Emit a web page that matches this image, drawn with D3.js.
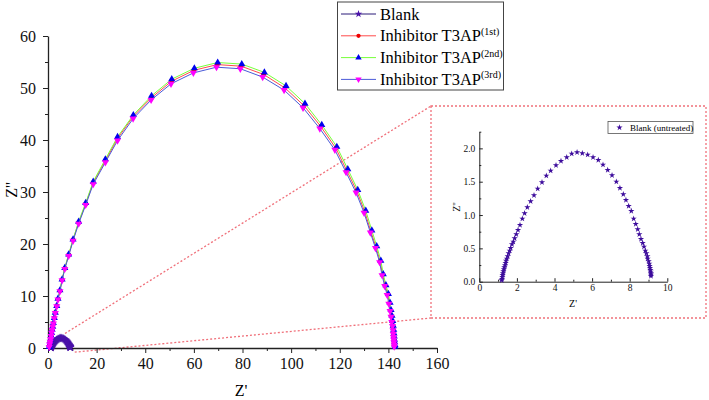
<!DOCTYPE html>
<html lang="en">
<head>
<meta charset="UTF-8">
<title>Nyquist plot</title>
<script src="https://cdn.jsdelivr.net/npm/d3@7"></script>
<style>
  body { margin: 0; background: #fff; }
  svg { display: block; }
  svg text { font-family: "Liberation Serif", "Times New Roman", Times, "DejaVu Serif", serif !important; }
  .axis path, .axis line { stroke: #222; }
  .axis text { fill: #111; }
</style>
</head>
<body>
<svg id="chart" width="709" height="400"></svg>
<script>
// Blank (untreated) - small semicircle, also shown in the inset
const blankRe = [1.19,1.21,1.225,1.24,1.26,1.28,1.31,1.33,1.37,1.40,1.42,1.46,1.51,1.56,1.615,1.67,1.74,1.81,1.88,1.97,2.06,2.165,2.29,2.41,2.555,2.73,2.91,3.105,3.335,3.565,3.795,4.08,4.345,4.65,4.915,5.20,5.48,5.765,6.05,6.33,6.58,6.83,7.06,7.29,7.48,7.66,7.80,7.945,8.085,8.21,8.32,8.425,8.51,8.60,8.69,8.76,8.83,8.885,8.94,8.955,9.01,9.045,9.06,9.08,9.10,9.115,9.13,9.13,9.13];
const blankIm = [0.02,0.04,0.07,0.10,0.125,0.155,0.185,0.215,0.245,0.28,0.315,0.345,0.38,0.425,0.465,0.505,0.56,0.60,0.65,0.71,0.775,0.85,0.945,1.025,1.115,1.205,1.295,1.395,1.49,1.59,1.665,1.745,1.81,1.865,1.92,1.94,1.925,1.905,1.865,1.825,1.755,1.675,1.595,1.50,1.405,1.31,1.225,1.135,1.06,0.945,0.865,0.785,0.71,0.64,0.58,0.525,0.465,0.425,0.38,0.345,0.305,0.27,0.235,0.205,0.175,0.15,0.125,0.105,0.085];

// Inhibitor T3AP, 1st
const t1Re = [0.5,0.7,0.9,1.1,1.3,1.5,1.7,1.95,2.2,2.6,3.0,3.6,4.1,4.9,5.8,6.9,8.5,10.3,12.6,15.5,18.6,23.6,28.6,35.0,42.5,50.8,60.0,69.6,79.4,88.7,97.5,105.3,112.2,118.4,122.9,127.0,130.3,132.8,134.9,136.6,137.6,138.7,139.7,140.4,140.8,141.2,141.5,141.8,142.0,142.1,142.2,142.3,142.4,142.5,142.5];
const t1Im = [0.2,0.7,1.2,1.7,2.3,2.9,3.5,4.1,4.8,5.8,6.8,8.1,9.4,11.0,13.1,15.3,17.9,20.8,24.1,27.7,31.8,36.0,40.3,44.5,48.1,51.3,53.4,54.5,54.2,52.6,50.0,46.6,42.6,38.4,34.1,30.2,26.2,22.4,19.4,16.7,14.1,12.0,10.3,8.6,7.2,6.1,5.1,4.3,3.5,2.8,2.2,1.6,1.1,0.6,0.25];

// Inhibitor T3AP, 2nd
const t2Re = [0.5,0.7,0.9,1.1,1.3,1.5,1.7,1.95,2.2,2.6,3.0,3.6,4.1,4.9,5.8,6.9,8.5,10.3,12.6,15.5,18.6,23.6,28.6,35.1,42.6,50.9,60.2,69.8,79.7,89.0,97.9,105.7,112.6,118.8,123.3,127.4,130.7,133.2,135.2,136.9,137.9,139.0,140.0,140.7,141.1,141.5,141.8,142.0,142.2,142.3,142.4,142.5,142.6,142.7,142.7];
const t2Im = [0.2,0.7,1.2,1.7,2.3,2.9,3.5,4.1,4.8,5.8,6.8,8.1,9.5,11.1,13.2,15.4,18.0,20.9,24.3,27.9,32.0,36.3,40.6,44.8,48.5,51.7,53.8,54.9,54.6,53.0,50.4,47.0,42.9,38.7,34.4,30.4,26.4,22.6,19.6,16.8,14.2,12.1,10.4,8.7,7.3,6.2,5.2,4.3,3.5,2.8,2.2,1.6,1.1,0.6,0.25];

// Inhibitor T3AP, 3rd
const t3Re = [0.5,0.7,0.9,1.1,1.3,1.5,1.7,1.95,2.2,2.6,3.0,3.6,4.1,4.9,5.8,6.9,8.5,10.3,12.6,15.5,18.6,23.6,28.6,35.0,42.4,50.6,59.8,69.3,79.1,88.3,97.1,104.9,111.8,118.0,122.6,126.7,130.0,132.6,134.7,136.4,137.4,138.5,139.5,140.2,140.7,141.1,141.4,141.7,141.9,142.0,142.1,142.2,142.3,142.4,142.4];
const t3Im = [0.2,0.7,1.2,1.7,2.3,2.9,3.5,4.1,4.7,5.7,6.7,8.0,9.3,10.9,13.0,15.2,17.7,20.6,23.9,27.5,31.5,35.7,39.9,44.1,47.7,50.8,52.9,54.0,53.7,52.1,49.6,46.2,42.2,38.1,33.8,29.9,26.0,22.2,19.2,16.5,14.0,11.9,10.2,8.5,7.1,6.0,5.0,4.2,3.4,2.7,2.1,1.6,1.1,0.6,0.25];

const xTicks = [0, 20, 40, 60, 80, 100, 120, 140, 160];
const yTicks = [0, 10, 20, 30, 40, 50, 60];
const insetXTicks = [0, 2, 4, 6, 8, 10];
const insetYTicks = [0, 0.5, 1.0, 1.5, 2.0];

const seriesNames = ['Blank', 'Inhibitor T3AP', 'Inhibitor T3AP', 'Inhibitor T3AP'];
const seriesSup = ['', '(1st)', '(2nd)', '(3rd)'];

const FONT = '"Liberation Serif", "Times New Roman", Times, serif'

let svg = d3.select('#chart')
let zip = (a, b) => a.map((v, i) => [v, b[i]])

let series = [
  { re: blankRe, im: blankIm, line: '#2a1a78', fill: '#4a12a8', sym: d3.symbolStar, size: 22, rot: 0 },
  { re: t1Re, im: t1Im, line: '#ff4a4a', fill: '#ee0000', sym: d3.symbolCircle, size: 18, rot: 0 },
  { re: t2Re, im: t2Im, line: '#77ff3a', fill: '#0000ee', sym: d3.symbolTriangle, size: 22, rot: 0 },
  { re: t3Re, im: t3Im, line: '#4a5ad8', fill: '#ff00ff', sym: d3.symbolTriangle, size: 22, rot: 180 }
]

// main scales
let x = d3.scaleLinear().domain([0, 160]).range([48, 437])
let y = d3.scaleLinear().domain([0, 60]).range([348, 36])

// inset scales
let xi = d3.scaleLinear().domain([0, 10]).range([479.3, 667.3])
let yi = d3.scaleLinear().domain([0, 2.25]).range([281.7, 131.7])

// zoom guide lines + inset box
let guide = svg.append('g')
  .attr('fill', 'none')
  .attr('stroke', '#f0707a')
  .attr('stroke-width', 1.3)
  .attr('stroke-dasharray', '2,2')
guide.append('rect')
  .attr('x', 431).attr('y', 106).attr('width', 275).attr('height', 212)
guide.append('line')
  .attr('x1', x(7)).attr('y1', y(2.8)).attr('x2', 431).attr('y2', 106)
guide.append('line')
  .attr('x1', x(11)).attr('y1', y(-0.8)).attr('x2', 431).attr('y2', 318)

// main axes
svg.append('g').attr('class', 'axis')
  .attr('transform', 'translate(0,' + y(0) + ')')
  .call(d3.axisBottom(x).tickValues(xTicks).tickSize(5).tickSizeOuter(0).tickPadding(5))
  .call(g => g.selectAll('text').style('font-size', '16px').style('font-family', FONT))
  .call(g => g.select('.domain').attr('stroke-width', 1.3))
svg.append('g').attr('class', 'axis')
  .attr('transform', 'translate(0,' + y(0) + ')')
  .call(d3.axisBottom(x).tickValues([10, 30, 50, 70, 90, 110, 130, 150]).tickSize(3).tickFormat(''))
  .call(g => g.select('.domain').remove())

svg.append('g').attr('class', 'axis')
  .attr('transform', 'translate(' + x(0) + ',0)')
  .call(d3.axisLeft(y).tickValues(yTicks).tickSize(5).tickSizeOuter(0).tickPadding(7))
  .call(g => g.selectAll('text').style('font-size', '16px').style('font-family', FONT))
  .call(g => g.select('.domain').attr('stroke-width', 1.3))
svg.append('g').attr('class', 'axis')
  .attr('transform', 'translate(' + x(0) + ',0)')
  .call(d3.axisLeft(y).tickValues([5, 15, 25, 35, 45, 55]).tickSize(3).tickFormat(''))
  .call(g => g.select('.domain').remove())

svg.append('text')
  .attr('x', 241).attr('y', 396)
  .attr('text-anchor', 'middle').style('font-size', '16px').style('font-family', FONT)
  .text("Z'")
svg.append('text')
  .attr('transform', 'translate(17,190) rotate(-90)')
  .attr('text-anchor', 'middle').style('font-size', '16px').style('font-family', FONT)
  .text("Z''")

// main data
let line = d3.line().x(d => x(d[0])).y(d => y(d[1]))
series.forEach(s => {
  let pts = zip(s.re, s.im)
  svg.append('path')
    .attr('d', line(pts))
    .attr('fill', 'none')
    .attr('stroke', s.line)
    .attr('stroke-width', 1)
  svg.append('g').selectAll('path')
    .data(pts)
    .enter()
    .append('path')
    .attr('d', d3.symbol().type(s.sym).size(s.size))
    .attr('transform', d => 'translate(' + x(d[0]) + ',' + y(d[1]) + ') rotate(' + s.rot + ')')
    .attr('fill', s.fill)
})

// legend
let lg = svg.append('g')
lg.append('rect')
  .attr('x', 337.5).attr('y', 2).attr('width', 166).attr('height', 88)
  .attr('fill', '#fff').attr('stroke', '#444').attr('stroke-width', 1)
series.forEach((s, i) => {
  let cy = 14 + i * 21.8
  lg.append('line')
    .attr('x1', 341).attr('x2', 376).attr('y1', cy).attr('y2', cy)
    .attr('stroke', s.line).attr('stroke-width', 1)
  lg.append('path')
    .attr('d', d3.symbol().type(s.sym).size(s.size * 0.8))
    .attr('transform', 'translate(358.5,' + cy + ') rotate(' + s.rot + ')')
    .attr('fill', s.fill)
  let t = lg.append('text')
    .attr('x', 380).attr('y', cy + 5.5)
    .style('font-size', '16.5px').style('font-family', FONT)
    .text(seriesNames[i])
  if (seriesSup[i]) {
    t.append('tspan').attr('dy', -6.5).style('font-size', '10px').text(seriesSup[i])
  }
})

// inset
let inset = svg.append('g')
inset.append('g').attr('class', 'axis')
  .attr('transform', 'translate(0,' + yi(0) + ')')
  .call(d3.axisBottom(xi).tickValues(insetXTicks).tickSize(-3.5).tickSizeOuter(0).tickPadding(3))
  .call(g => g.selectAll('text').style('font-size', '9.5px').style('font-family', FONT))
inset.append('g').attr('class', 'axis')
  .attr('transform', 'translate(0,' + yi(0) + ')')
  .call(d3.axisBottom(xi).tickValues([1, 3, 5, 7, 9]).tickSize(-2).tickFormat(''))
  .call(g => g.select('.domain').remove())
inset.append('g').attr('class', 'axis')
  .attr('transform', 'translate(' + xi(0) + ',0)')
  .call(d3.axisLeft(yi).tickValues(insetYTicks).tickSize(-3.5).tickSizeOuter(0).tickPadding(4)
    .tickFormat(d3.format('.1f')))
  .call(g => g.selectAll('text').style('font-size', '9.5px').style('font-family', FONT))
inset.append('g').attr('class', 'axis')
  .attr('transform', 'translate(' + xi(0) + ',0)')
  .call(d3.axisLeft(yi).tickValues([0.25, 0.75, 1.25, 1.75, 2.25]).tickSize(-2).tickFormat(''))
  .call(g => g.select('.domain').remove())

inset.append('text')
  .attr('x', 573).attr('y', 307)
  .attr('text-anchor', 'middle').style('font-size', '10px').style('font-family', FONT)
  .text("Z'")
inset.append('text')
  .attr('transform', 'translate(460,207) rotate(-90)')
  .attr('text-anchor', 'middle').style('font-size', '10px').style('font-family', FONT)
  .text("Z''")

inset.append('g').selectAll('path')
  .data(zip(blankRe, blankIm))
  .enter()
  .append('path')
  .attr('d', d3.symbol().type(d3.symbolStar).size(12))
  .attr('transform', d => 'translate(' + xi(d[0]) + ',' + yi(d[1]) + ')')
  .attr('fill', '#3d0c9c')

// inset legend
inset.append('rect')
  .attr('x', 608).attr('y', 121.5).attr('width', 85).attr('height', 12)
  .attr('fill', '#fff').attr('stroke', '#555').attr('stroke-width', 0.8)
inset.append('path')
  .attr('d', d3.symbol().type(d3.symbolStar).size(12))
  .attr('transform', 'translate(619.5,127.5)')
  .attr('fill', '#3d0c9c')
inset.append('text')
  .attr('x', 630).attr('y', 130.5).style('font-size', '9px').style('font-family', FONT)
  .text('Blank (untreated)')
</script>
</body>
</html>
